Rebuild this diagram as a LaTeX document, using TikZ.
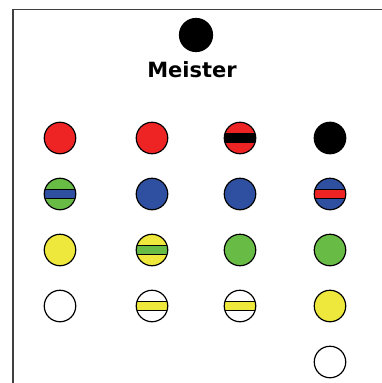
\documentclass[tikz,border=0pt]{standalone}
\usepackage{fontspec}
\setmainfont{DejaVu Sans}
\definecolor{cred}{HTML}{EE2424}
\definecolor{cblue}{HTML}{2F4FA0}
\definecolor{cgreen}{HTML}{68BC46}
\definecolor{cyellow}{HTML}{EEE83C}
\begin{document}
\begin{tikzpicture}[x=1pt,y=-1pt,
  peg/.style={circle,draw=black,line width=1.2pt,minimum size=31.5pt,inner sep=0pt,fill=#1},
  bandpeg/.style 2 args={peg=#1,path picture={
     \fill[#2,draw=black,line width=1.2pt] ([xshift=-20pt,yshift=-4.6pt]path picture bounding box.center) rectangle ([xshift=20pt,yshift=4.6pt]path picture bounding box.center);}}]
\useasboundingbox (0,0) rectangle (382,383);
\draw[line width=1.6pt,black!75] (13,383) -- (13,9.5) -- (382,9.5);
\node[peg=black,minimum size=33pt] (m) at (196,35) {};
\node[font=\bfseries\fontsize{21}{24}\selectfont] (lbl) at (192,70) {Meister};
% row 1
\node[peg=cred] (a1) at (60,138) {};
\node[peg=cred] (b1) at (152,138) {};
\node[bandpeg={cred}{black}] (c1) at (240,138) {};
\node[peg=black] (d1) at (330,138) {};
% row 2
\node[bandpeg={cgreen}{cblue}] (a2) at (60,194) {};
\node[peg=cblue] (b2) at (152,194) {};
\node[peg=cblue] (c2) at (240,194) {};
\node[bandpeg={cblue}{cred}] (d2) at (330,194) {};
% row 3
\node[peg=cyellow] (a3) at (60,250) {};
\node[bandpeg={cyellow}{cgreen}] (b3) at (152,250) {};
\node[peg=cgreen] (c3) at (240,250) {};
\node[peg=cgreen] (d3) at (330,250) {};
% row 4
\node[peg=white] (a4) at (60,306) {};
\node[bandpeg={white}{cyellow}] (b4) at (152,306) {};
\node[bandpeg={white}{cyellow}] (c4) at (240,306) {};
\node[peg=cyellow] (d4) at (330,306) {};
% row 5
\node[peg=white] (d5) at (330,362) {};
\end{tikzpicture}
\end{document}
